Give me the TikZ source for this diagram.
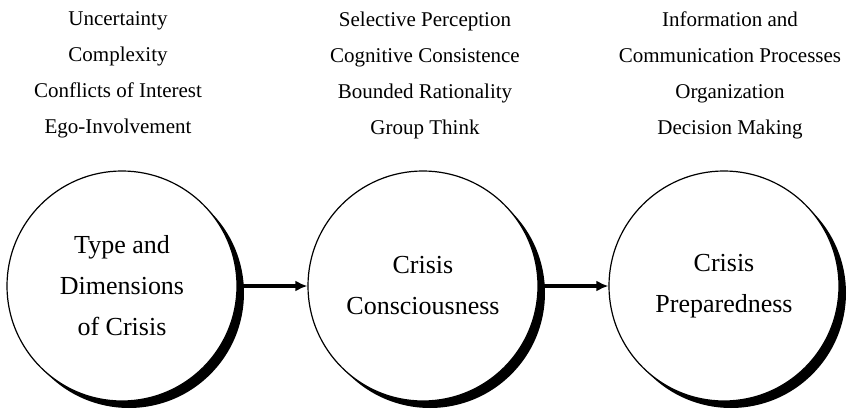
\documentclass[tikz,border=0pt]{standalone}
\usepackage{fontspec}
\setmainfont{Liberation Serif}
\usepackage{tikz}
\usetikzlibrary{arrows.meta,positioning,shadows}

\begin{document}
\begin{tikzpicture}[->,>={Latex[length=6pt,width=5.5pt]},auto,node distance=150.5pt,
    stage/.style={circle,draw,line width=0.6pt,fill=white,minimum size=115pt,inner sep=0pt,align=center,
      font=\fontsize{13}{20.5}\selectfont,
      drop shadow={shadow xshift=3.5pt,shadow yshift=-3.5pt,fill=black,opacity=1}},
    factors/.style={align=center,font=\fontsize{10.5}{18}\selectfont}]
    \useasboundingbox (-61pt,-64pt) rectangle (363pt,143pt);

    \node[stage]         (type)                      {Type and\\Dimensions\\of Crisis};
    \node[stage]         (conscious) [right of=type]      {Crisis\\Consciousness};
    \node[stage]         (prepared)  [right of=conscious] {Crisis\\Preparedness};

    \path (type)      edge [line width=1.6pt] (conscious)
    (conscious) edge [line width=1.6pt] (prepared);

    \node[factors, above of=type, node distance=105.5pt, xshift=-2pt]      (typeF)      {Uncertainty\\Complexity\\Conflicts of Interest\\Ego-Involvement};
    \node[factors, above of=conscious, node distance=105.5pt, xshift=1pt]  (consciousF) {Selective Perception\\Cognitive Consistence\\Bounded Rationality\\Group Think};
    \node[factors, above of=prepared, node distance=105.5pt, xshift=3pt]   (preparedF)  {Information and\\Communication Processes\\Organization\\Decision Making};
\end{tikzpicture}
\end{document}
